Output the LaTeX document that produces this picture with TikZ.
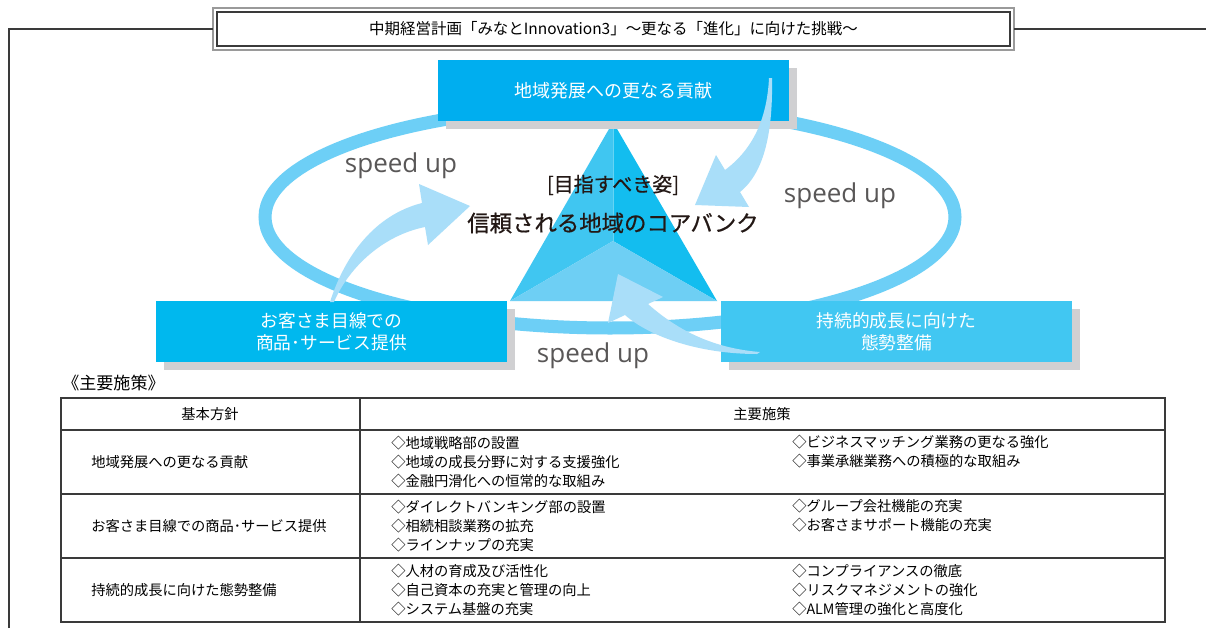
\documentclass[tikz,border=0pt]{standalone}
\usepackage{fontspec}
\setmainfont{Noto Sans CJK JP}
\newfontfamily\latinsans{Open Sans}
\newfontfamily\jpmed{Noto Sans CJK JP}[FakeBold=0.7]
\definecolor{topc}{HTML}{00AEEF}
\definecolor{leftc}{HTML}{00B8EE}
\definecolor{rightc}{HTML}{41C7F2}
\definecolor{shadowc}{HTML}{D0D0D2}
\definecolor{ringc}{HTML}{6DCFF6}
\definecolor{arrowc}{HTML}{A9DEF9}
\definecolor{faceL}{HTML}{40C6F1}
\definecolor{faceR}{HTML}{13BDEF}
\definecolor{faceB}{HTML}{6ECFF4}
\definecolor{speedc}{HTML}{595757}
\definecolor{linec}{HTML}{3A3A3A}
\definecolor{goalc}{HTML}{231815}
\definecolor{framegray}{HTML}{9A9A9A}
\tikzset{
  bluebox/.style={rectangle, inner sep=0pt, minimum width=263.25pt, minimum height=45.75pt,
    text=white, align=center, font=\fontsize{13.3}{16.5}\selectfont},
  speedtxt/.style={inner sep=0pt, text=speedc, font=\latinsans\fontsize{19.5}{22}\selectfont},
  celltxt/.style={inner sep=0pt, anchor=west, align=left, text=black, font=\fontsize{10.7}{14.25}\selectfont},
  headtxt/.style={inner sep=0pt, text=black, font=\fontsize{10.7}{14.25}\selectfont},
  tline/.style={draw=linec, line width=0.8pt},
  fatarrow/.style={fill=arrowc, draw=none}
}
\begin{document}
\begin{tikzpicture}[x=0.75pt,y=-0.75pt]
\useasboundingbox (0,0) rectangle (1206,628);

% ---- frame and title ----
\fill[white] (0,0) rectangle (1206,628);
\draw[framegray, line width=1.4pt, fill=white] (213,8) rectangle (1014,50);
\node[draw=linec, line width=0.8pt, minimum width=594.75pt, minimum height=25.5pt, inner sep=0pt,
  font=\fontsize{11.6}{13}\selectfont] (title) at (613.5,29) {中期経営計画「みなとInnovation3」～更なる「進化」に向けた挑戦～};
\coordinate (fl) at (9,29);
\coordinate (flb) at (9,628);
\coordinate (fr) at (1206,29);
\draw[linec, line width=0.8pt] (flb) -- (fl) -- (213,29);
\draw[linec, line width=0.8pt] (1014,29) -- (fr);

% ---- ring ----
\draw[ringc, line width=9.75pt] (610,217) ellipse [x radius=345, y radius=111];

% ---- triangle ----
\coordinate (apex) at (613,122);
\coordinate (bl) at (510,301);
\coordinate (br) at (717,301);
\coordinate (ctr) at (613,241);
\fill[faceL] (apex) -- (bl) -- (ctr) -- cycle;
\fill[faceR] (apex) -- (ctr) -- (br) -- cycle;
\fill[faceB] (bl) -- (ctr) -- (br) -- cycle;
\draw[white, opacity=0.35, line width=0.5pt] (apex) -- (ctr);

% ---- shadows ----
\fill[shadowc] (446,68) rectangle (797,129);
\fill[shadowc] (164,309) rectangle (515,370);
\fill[shadowc] (729,309) rectangle (1080,370);

% ---- boxes ----
\node[bluebox, fill=topc, font=\fontsize{13.5}{16.5}\selectfont] (topbox) at (613.5,90.5) {地域発展への更なる貢献};
\node[bluebox, fill=leftc] (leftbox) at (331.5,331.5) {お客さま目線での\\商品･サービス提供};
\node[bluebox, fill=rightc] (rightbox) at (896.5,331.5) {持続的成長に向けた\\態勢整備};

% ---- fat arrows ----
\fill[fatarrow] (772,78) .. controls (773,130) and (765,172) .. (740,192)
  -- (749,207) -- (695,205) -- (716,155) -- (725,170)
  .. controls (752,150) and (767,120) .. (769,78) -- cycle;
\fill[fatarrow] (330,302) .. controls (345,255) and (375,215) .. (422,203)
  -- (419,184) -- (470,206) -- (428,245) -- (425,227)
  .. controls (385,235) and (350,265) .. (334,302) -- cycle;
\fill[fatarrow] (757,354) .. controls (700,354) and (650,337) .. (625,315)
  -- (608,323) -- (618,274) -- (663,297) -- (648,304)
  .. controls (675,328) and (710,348) .. (760,352) -- cycle;

% ---- center texts ----
\node[inner sep=0pt, text=goalc, font=\jpmed\fontsize{15}{18}\selectfont] (goalhead) at (613,185) {[目指すべき姿]};
\node[inner sep=0pt, text=goalc, font=\jpmed\fontsize{16.8}{20}\selectfont] (goal) at (613,223) {信頼される地域のコアバンク};

% ---- speed up ----
\node[speedtxt] (sp1) at (401,166) {speed up};
\node[speedtxt] (sp2) at (840,196) {speed up};
\node[speedtxt] (sp3) at (593,356) {speed up};

% ---- table ----
\node[inner sep=0pt, anchor=west, font=\fontsize{12.8}{15}\selectfont] (sect) at (62,383) {《主要施策》};
\draw[tline] (61,398) rectangle (1165,622);
\draw[tline] (360,398) -- (360,622);
\draw[tline] (61,430) -- (1165,430);
\draw[tline] (61,494) -- (1165,494);
\draw[tline] (61,558) -- (1165,558);

\node[headtxt] (h1) at (210,414) {基本方針};
\node[headtxt] (h2) at (762,414) {主要施策};

\node[celltxt] (r1) at (91,462) {地域発展への更なる貢献};
\node[celltxt] (r2) at (91,526) {お客さま目線での商品･サービス提供};
\node[celltxt] (r3) at (91,590) {持続的成長に向けた態勢整備};

\node[celltxt] (r1a) at (391,462) {◇地域戦略部の設置\\◇地域の成長分野に対する支援強化\\◇金融円滑化への恒常的な取組み};
\node[celltxt, anchor=north west] (r1b) at (792,435) {◇ビジネスマッチング業務の更なる強化\\◇事業承継業務への積極的な取組み};
\node[celltxt] (r2a) at (391,526) {◇ダイレクトバンキング部の設置\\◇相続相談業務の拡充\\◇ラインナップの充実};
\node[celltxt, anchor=north west] (r2b) at (792,499) {◇グループ会社機能の充実\\◇お客さまサポート機能の充実};
\node[celltxt] (r3a) at (391,590) {◇人材の育成及び活性化\\◇自己資本の充実と管理の向上\\◇システム基盤の充実};
\node[celltxt] (r3b) at (792,590) {◇コンプライアンスの徹底\\◇リスクマネジメントの強化\\◇ALM管理の強化と高度化};
\end{tikzpicture}
\end{document}
